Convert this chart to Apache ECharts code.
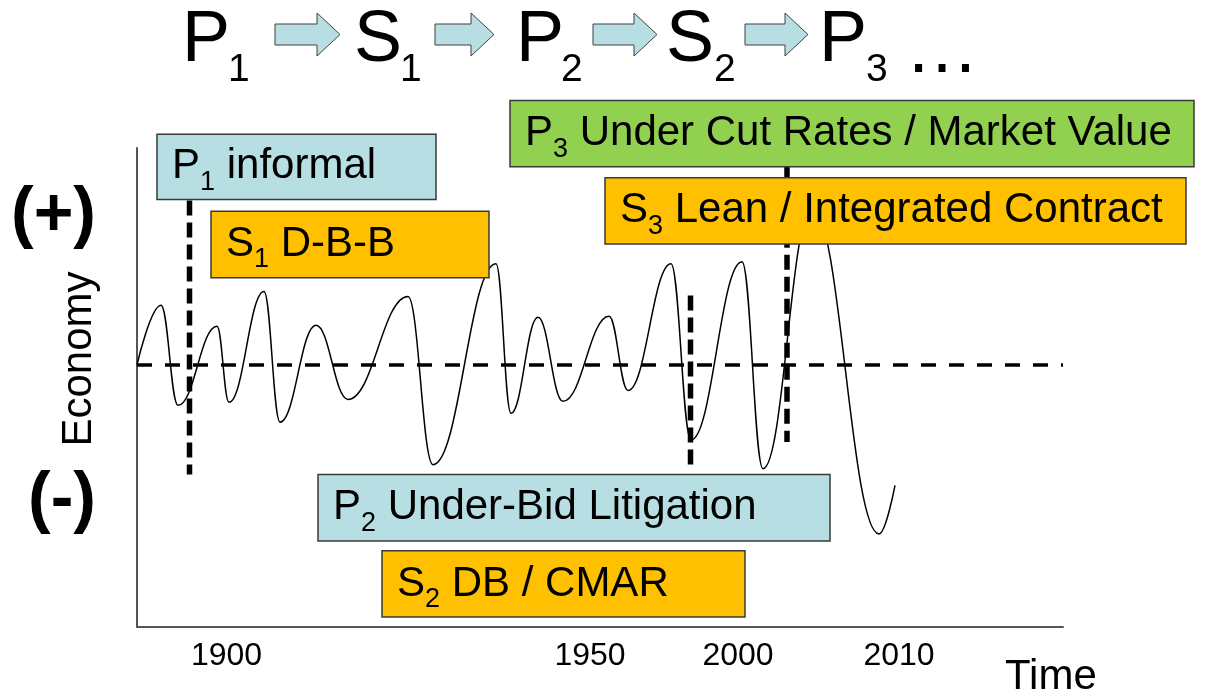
<!DOCTYPE html>
<html>
<head>
<meta charset="utf-8">
<script src="https://cdn.jsdelivr.net/npm/echarts@6/dist/echarts.min.js"></script>
<style>
html,body{margin:0;padding:0;background:#fff;}
#chart{width:1208px;height:698px;}
</style>
</head>
<body>
<div id="chart"></div>
<script>
// ---- data (schematic units: time index, economy index) ----
const timeIndex = [0.0, 2.4, 4.1, 8.0, 9.2, 12.7, 14.3, 17.9, 21.1, 27.1, 29.6, 35.9, 37.4, 40.1, 42.6, 47.2, 49.1, 53.4, 55.4, 60.5, 62.6, 67.5, 74.2, 75.8];
const economy  = [0.0, 6.0, -4.1, 3.9, -3.8, 7.4, -5.8, 4.0, -3.5, 6.9, -10.1, 10.2, -4.9, 4.8, -3.7, 4.9, -2.6, 10.2, -7.6, 10.4, -10.5, 15.9, -17.1, -12.2];

const yearTickPos = [8.95, 45.3, 60.1, 76.2];
const yearTickLabels = ['1900', '1950', '2000', '2010'];

const econTickPos = [15.0, -13.8];
const econTickLabels = ['(+)', '(-)'];

// phase change markers (vertical dashed lines)
const markerX = [5.25, 55.35, 65.0];
const markerTop = [16.6, 7.0, 20.0];
const markerBottom = [-11.1, -10.5, -7.8];

// phase boxes
const boxLetter = ['P', 'S', 'P', 'S', 'P', 'S'];
const boxSub = ['1', '1', '3', '3', '2', '2'];
const boxText = [' informal', ' D-B-B', ' Under Cut Rates / Market Value', ' Lean / Integrated Contract', ' Under-Bid Litigation', ' DB / CMAR'];
const boxStart = [2.0, 7.4, 37.3, 46.8, 18.1, 24.5];
const boxEnd = [29.9, 35.2, 105.7, 104.9, 69.3, 60.8];
const boxTop = [23.3, 15.5, 26.7, 18.9, -11.1, -18.8];
const boxBottom = [16.7, 8.8, 20.0, 12.2, -17.8, -25.5];
const boxKind = ['p', 's', 'g', 's', 'p', 's'];

// title sequence
const seqLetter = ['P', 'S', 'P', 'S', 'P'];
const seqSub = ['1', '1', '2', '2', '3'];

// ---- styles ----
const FONT = '"Liberation Sans", Arial, sans-serif';
const boxColors = { p: '#b7dfe3', s: '#ffc000', g: '#92d050' };

const chart = echarts.init(document.getElementById('chart'));

const curveData = timeIndex.map((t, i) => [t, economy[i]]);
const boxData = boxStart.map((s, i) => [s, boxTop[i], boxEnd[i], boxBottom[i]]);

function nearestLabel(v, pos, labels) {
  let best = 0, d = Infinity;
  pos.forEach((p, i) => { const dd = Math.abs(p - v); if (dd < d) { d = dd; best = i; } });
  return d < 0.01 ? labels[best] : '';
}

const markerSeries = markerX.map((x, i) => ({
  type: 'line',
  data: [[x, markerTop[i]], [x, markerBottom[i]]],
  symbol: 'none',
  silent: true,
  z: 3,
  lineStyle: { color: '#000', width: 5.5, type: [15, 7] }
}));

// title graphics
const titleX = [182, 354, 516, 666, 819];
const subX = [228, 400, 561, 714, 866];
const arrows = [[275, 340], [435, 494], [593, 657], [745, 808]];
const graphics = [];
seqLetter.forEach((l, i) => {
  graphics.push({ type: 'text', x: titleX[i], y: 5, style: { text: l, font: '72px ' + FONT, fill: '#000', verticalAlign: 'top' } });
  graphics.push({ type: 'text', x: subX[i], y: 51, style: { text: seqSub[i], font: '39px ' + FONT, fill: '#000', verticalAlign: 'top' } });
});
graphics.push({ type: 'text', x: 905, y: 15, style: { text: '\u2026', font: '74px ' + FONT, fill: '#000', verticalAlign: 'top' } });
arrows.forEach(([x0, x1]) => {
  const hx = x1 - 23;
  graphics.push({
    type: 'polygon',
    shape: { points: [[x0, 24], [hx, 24], [hx, 13], [x1, 34.5], [hx, 56], [hx, 45], [x0, 45]] },
    style: { fill: '#b7dfe3', stroke: '#404040', lineWidth: 1 }
  });
});

const option = {
  backgroundColor: '#fff',
  animation: false,
  grid: { left: 137, right: 145, top: 148, bottom: 66 },
  xAxis: {
    type: 'value',
    min: 0,
    max: 92.6,
    name: 'Time',
    nameLocation: 'end',
    nameGap: -58,
    nameTextStyle: { fontFamily: FONT, fontSize: 42, color: '#000', verticalAlign: 'top', padding: [29, 0, 0, 0] },
    axisLine: { show: true, onZero: false, lineStyle: { color: '#555', width: 2 } },
    axisTick: { show: false },
    splitLine: { show: false },
    axisLabel: {
      customValues: yearTickPos,
      formatter: v => nearestLabel(v, yearTickPos, yearTickLabels),
      fontFamily: FONT, fontSize: 32, color: '#000', margin: 13
    }
  },
  yAxis: {
    type: 'value',
    min: -26.5,
    max: 21.9,
    name: 'Economy',
    nameLocation: 'middle',
    nameGap: 37,
    nameMoveOverlap: false,
    nameTextStyle: { fontFamily: FONT, fontSize: 42, color: '#000', padding: [0, 0, 0, 57] },
    axisLine: { show: true, onZero: false, lineStyle: { color: '#555', width: 2 } },
    axisTick: { show: false },
    splitLine: { show: false },
    axisLabel: {
      customValues: econTickPos,
      formatter: v => nearestLabel(v, econTickPos, econTickLabels),
      fontFamily: FONT, fontSize: 68, fontWeight: 'bold', color: '#000', margin: 41
    }
  },
  graphic: graphics,
  series: [
    {
      type: 'line',
      data: curveData,
      symbol: 'none',
      smooth: 0.42,
      smoothMonotone: 'x',
      silent: true,
      z: 2,
      lineStyle: { color: '#000', width: 1.5 },
      markLine: {
        silent: true,
        symbol: 'none',
        label: { show: false },
        lineStyle: { color: '#000', width: 3.5, type: [15, 13] },
        data: [{ yAxis: 0 }]
      }
    },
    ...markerSeries,
    {
      type: 'custom',
      clip: false,
      silent: true,
      z: 10,
      data: boxData,
      encode: { x: [0, 2], y: [1, 3] },
      renderItem: function (params, api) {
        const i = params.dataIndex;
        const p0 = api.coord([api.value(0), api.value(1)]);
        const p1 = api.coord([api.value(2), api.value(3)]);
        const h = p1[1] - p0[1];
        return {
          type: 'group',
          children: [
            {
              type: 'rect',
              shape: { x: p0[0], y: p0[1], width: p1[0] - p0[0], height: h },
              style: { fill: boxColors[boxKind[i]], stroke: '#3a3a3a', lineWidth: 1.5 }
            },
            {
              type: 'text',
              x: p0[0] + 15,
              y: p0[1] + h / 2,
              style: {
                text: '{m|' + boxLetter[i] + '}{s|' + boxSub[i] + '}{m|' + boxText[i] + '}',
                align: 'left',
                verticalAlign: 'middle',
                rich: {
                  m: { fontFamily: FONT, fontSize: 42, lineHeight: 58, fill: '#000', color: '#000' },
                  s: { fontFamily: FONT, fontSize: 27, lineHeight: 27, verticalAlign: 'bottom', fill: '#000', color: '#000' }
                }
              }
            }
          ]
        };
      }
    }
  ]
};
chart.setOption(option);
</script>
</body>
</html>
